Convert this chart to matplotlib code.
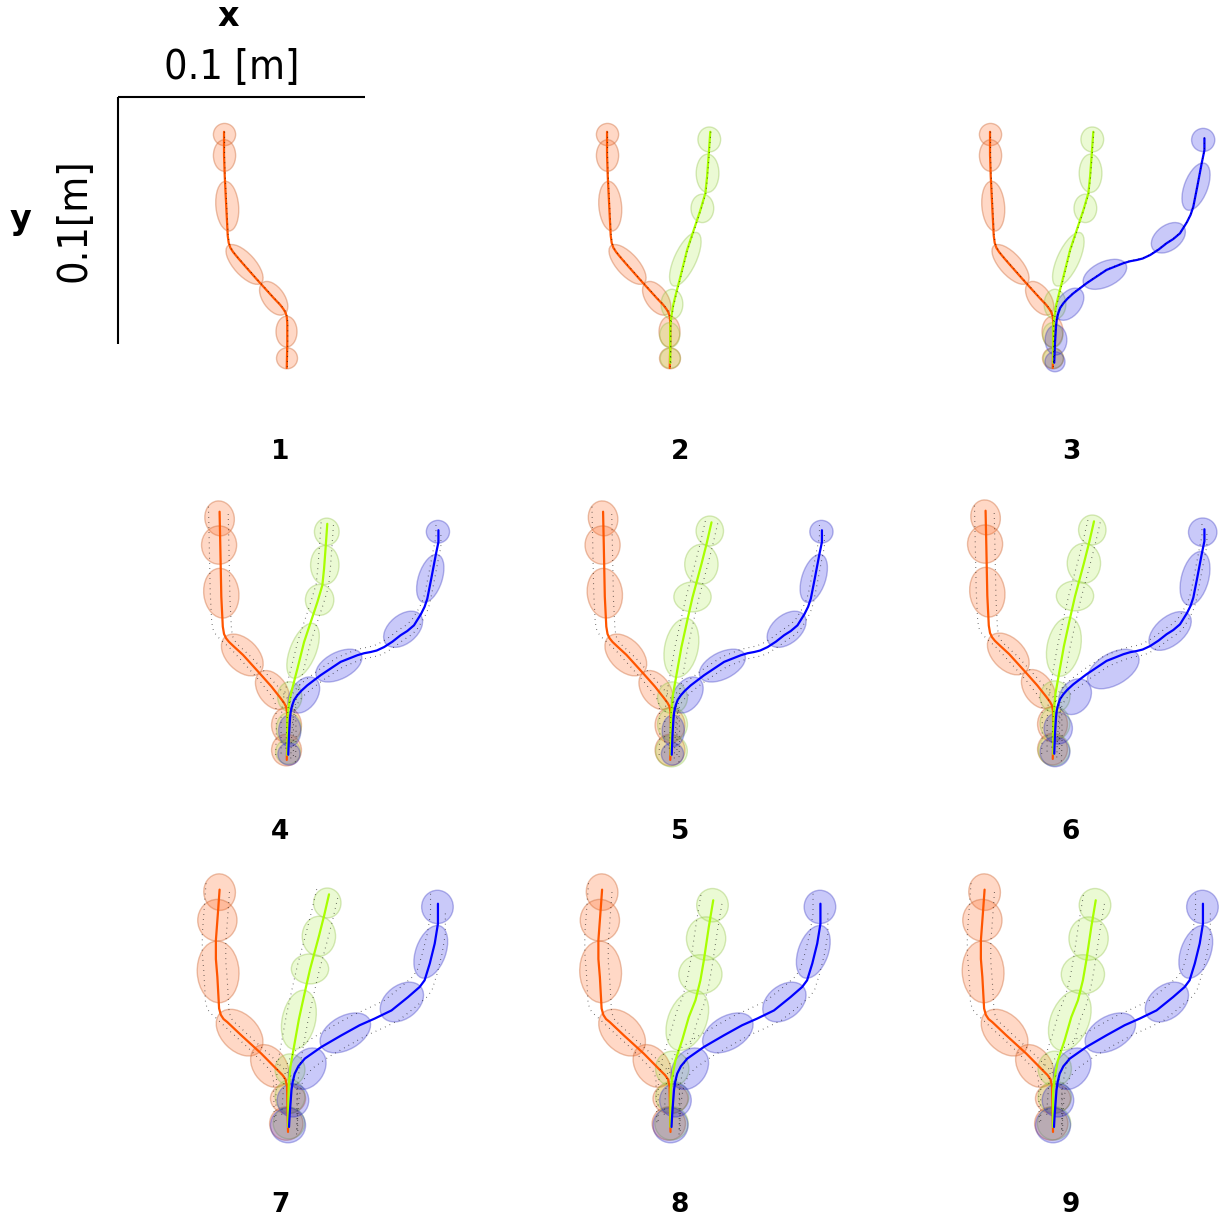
import matplotlib
matplotlib.use("Agg")
import matplotlib.pyplot as plt
from matplotlib.patches import Ellipse

# ---------------- data (millimetres, origin = common start point) ----------------
# mean trajectories
ORANGE_R1_X = [-25.9, -25.9, -25.6, -25.0, -24.4, -24.0, -23.3, -22.2, -20.4, -17.8, -12.4, -5.7,
               -3.2, -1.9, -1.0, -0.5, -0.3, -0.3, -0.5]
ORANGE_R1_Y = [93.6, 84.2, 75.4, 63.3, 51.5, 48.6, 46.6, 44.9, 42.7, 39.7, 33.6, 26.2,
               23.6, 21.9, 20.4, 18.7, 16.2, 8.0, -2.0]
ORANGE_R2_X = [-27.7, -27.4, -27.0, -26.4, -25.9, -25.1, -23.9, -22.0, -18.2, -11.5, -6.7, -3.0,
               -1.6, -0.8, -0.4, -0.2, -0.5]
ORANGE_R2_Y = [98.5, 84.3, 64.1, 52.0, 49.0, 47.3, 45.8, 44.0, 40.5, 33.1, 27.7, 23.0,
               21.1, 19.6, 17.4, 8.8, -2.0]
ORANGE_R3_X = [-28.1, -28.7, -29.6, -29.6, -29.0, -28.3, -27.6, -26.5, -25.0, -19.3, -11.2, -4.6,
               -2.6, -1.4, -0.8, -0.6, -0.4]
ORANGE_R3_Y = [96.1, 87.7, 75.6, 68.0, 60.7, 48.0, 45.4, 43.7, 42.5, 37.1, 29.7, 23.0,
               21.0, 19.3, 16.5, 6.8, -2.0]

GREEN_R1_X = [15.9, 15.3, 14.6, 13.9, 11.9, 9.2, 6.5, 3.8, 1.7, 0.8, 0.1, -0.3, -0.3]
GREEN_R1_Y = [93.6, 84.9, 75.4, 68.7, 61.9, 53.8, 45.7, 34.9, 26.8, 23.0, 18.5, 14.7, 0.0]
GREEN_S_X = [16.2, 14.2, 12.1, 10.3, 8.5, 6.5, 4.0, 2.2, 0.6, -0.1, -0.3, -0.3]
GREEN_S_Y = [94.2, 85.5, 77.2, 70.5, 63.8, 55.0, 43.6, 33.5, 24.5, 17.0, 10.0, 0.0]
GREEN_R3_X = [16.9, 15.1, 13.1, 11.7, 9.7, 7.0, 4.3, 1.6, 0.3, -0.3, -0.4, -0.4]
GREEN_R3_Y = [91.8, 81.0, 67.5, 59.4, 51.3, 44.5, 35.1, 27.0, 20.2, 15.5, 11.0, 0.0]

BLUE_R1_X = [60.9, 60.9, 59.8, 58.0, 56.4, 55.3, 53.8, 51.0, 48.3, 45.6, 42.3, 38.9, 35.9, 33.5, 30.8,
             28.1, 21.3, 13.2, 7.8, 5.4, 3.8, 2.5, 1.7, 1.1, 0.8, 0.4, 0.1]
BLUE_R1_Y = [91.0, 86.2, 80.9, 71.4, 63.3, 60.0, 57.0, 52.5, 50.2, 48.5, 45.9, 43.7, 42.3, 41.7, 41.2,
             40.4, 37.7, 32.3, 28.2, 26.0, 24.2, 22.3, 20.1, 17.5, 14.7, 8.0, 0.1]
BLUE_R3_X = [60.3, 60.3, 59.0, 57.0, 54.9, 52.9, 48.2, 41.5, 34.7, 28.6, 21.2, 13.1, 6.4, 3.8,
             2.3, 1.5, 1.0, 0.3, 0.0]
BLUE_R3_Y = [90.4, 82.3, 74.3, 66.2, 59.4, 56.7, 52.6, 47.2, 43.9, 41.2, 37.1, 32.4, 27.7, 24.6,
             21.6, 18.3, 14.9, 5.4, 0.0]

# Gaussian components: (cx, cy, major, minor, angle_deg)
ORANGE_ELL_R1 = [(-25.7, 92.5, 9.0, 9.0, 0), (-25.7, 84.0, 12.8, 9.0, 90), (-24.6, 63.5, 20.2, 9.2, 95),
                 (-17.6, 39.9, 20.2, 8.8, -48), (-5.8, 26.2, 15.5, 8.8, -55), (-0.6, 12.7, 12.5, 8.5, 90),
                 (-0.4, 1.9, 8.5, 8.5, 0)]
GREEN_ELL_R1 = [(15.5, 90.5, 10.1, 9.2, 90), (14.8, 76.8, 15.5, 9.2, 90), (12.7, 62.6, 11.5, 9.2, 90),
                (5.8, 42.0, 23.6, 8.8, 65), (0.4, 23.8, 12.1, 8.8, 90), (-0.5, 11.3, 10.1, 8.1, 90),
                (-0.3, 1.9, 8.1, 8.1, 0)]
BLUE_ELL_R1 = [(60.4, 90.3, 9.4, 9.4, 0), (57.5, 71.4, 20.2, 9.4, 69), (46.3, 50.7, 15.5, 10.1, 37),
               (20.6, 35.9, 18.9, 10.1, 25), (6.2, 23.8, 14.8, 9.4, 52), (0.8, 9.3, 12.1, 8.8, 90),
               (0.4, 0.5, 8.1, 8.1, 0)]

ORANGE_ELL_R2 = [(-27.7, 95.8, 14.2, 11.9, 100), (-27.9, 85.0, 15.5, 14.2, 90), (-27.0, 65.5, 20.2, 14.2, 97),
                 (-18.5, 40.5, 20.2, 12.8, -45), (-6.3, 26.3, 17.5, 11.5, -55), (-0.6, 12.1, 14.2, 12.1, 90),
                 (-0.6, 2.0, 12.8, 12.1, 90)]
GREEN_ELL_R2 = [(15.7, 90.4, 11.0, 10.0, 90), (14.9, 76.9, 15.8, 11.5, 90), (12.8, 62.8, 12.5, 11.5, 90),
                (6.1, 42.2, 23.6, 10.5, 68), (0.7, 23.6, 12.1, 9.8, 90), (0.3, 10.8, 12.8, 10.0, 90),
                (0.0, 1.3, 10.0, 10.0, 0)]
GREEN_ELL_S = [(15.5, 90.7, 12.1, 11.1, 90), (12.1, 77.2, 16.2, 13.5, 90), (8.5, 64.0, 15.1, 12.1, 0),
               (4.0, 43.4, 24.3, 13.5, 78), (0.4, 23.2, 12.8, 12.1, 90), (0.4, 12.4, 13.5, 12.1, 90),
               (0.0, 1.6, 12.8, 12.8, 0)]
BLUE_ELL_R2 = [(60.7, 90.4, 9.4, 9.2, 0), (57.6, 71.5, 20.2, 9.6, 72), (46.6, 50.9, 18.2, 11.5, 40),
               (20.6, 36.2, 20.2, 10.8, 27), (6.4, 24.3, 16.2, 10.8, 55), (0.7, 9.8, 12.8, 9.0, 90),
               (0.4, 0.4, 9.0, 9.0, 0)]
BLUE_ELL_P6 = [(60.2, 89.8, 11.5, 11.5, 0), (57.1, 71.1, 22.3, 11.0, 75), (47.0, 49.8, 20.2, 11.5, 40),
               (24.0, 34.4, 23.0, 12.8, 30), (8.5, 23.2, 15.5, 12.1, 55), (1.7, 10.4, 12.8, 11.5, 90),
               (0.4, 0.9, 12.1, 12.1, 0)]

ORANGE_ELL_R3 = [(-28.1, 95.1, 14.8, 12.8, 95), (-29.0, 83.7, 16.9, 15.9, 90), (-28.7, 62.8, 25.0, 16.9, 93),
                 (-20.0, 38.2, 22.3, 14.8, -45), (-7.8, 24.7, 18.9, 13.5, -55), (-0.4, 11.5, 14.2, 12.1, 0),
                 (-1.1, 1.4, 13.5, 13.5, 0)]
GREEN_ELL_R3 = [(16.6, 89.8, 13.5, 12.8, 90), (14.0, 76.3, 17.5, 15.9, 90), (11.7, 61.8, 17.5, 15.9, 0),
                (6.4, 43.2, 25.6, 15.5, 68), (0.3, 23.6, 14.2, 13.5, 90), (0.3, 12.1, 13.5, 12.8, 0),
                (0.0, 1.5, 13.5, 13.5, 0)]
BLUE_ELL_R3 = [(60.1, 89.1, 13.5, 12.8, 90), (57.4, 70.9, 22.3, 12.1, 70), (45.7, 50.6, 19.6, 13.5, 38),
               (22.8, 38.1, 22.3, 13.5, 30), (7.4, 23.6, 18.2, 13.5, 55), (1.6, 10.8, 13.5, 12.8, 90),
               (-0.4, 0.7, 14.2, 14.2, 0)]

# demonstration offsets from the mean (dx, dy) in mm
DEMO_R1 = {"orange": [(0.2, 0.0)], "green": [(0.2, 0.0)], "blue": [(0.0, 0.2)]}
DEMO_R2 = {"orange": [(-4.5, 2.0), (3.5, -1.0)], "green": [(-2.5, 0.5), (2.5, -0.5)], "blue": [(-1.0, 2.0), (1.0, -2.0)]}
DEMO_R3 = {"orange": [(-5.5, 2.5), (4.0, -1.0)], "green": [(-5.0, 2.0), (3.5, -1.5)], "blue": [(-3.0, 4.0), (3.0, -4.0)]}

PANEL_LABELS = ["1", "2", "3", "4", "5", "6", "7", "8", "9"]
SCALE_LEN_MM = 100

# which trajectory / component set each panel shows
PANELS = [
    {"orange": (ORANGE_R1_X, ORANGE_R1_Y, ORANGE_ELL_R1), "demo": DEMO_R1},
    {"orange": (ORANGE_R1_X, ORANGE_R1_Y, ORANGE_ELL_R1), "green": (GREEN_R1_X, GREEN_R1_Y, GREEN_ELL_R1),
     "demo": DEMO_R1},
    {"orange": (ORANGE_R1_X, ORANGE_R1_Y, ORANGE_ELL_R1), "green": (GREEN_R1_X, GREEN_R1_Y, GREEN_ELL_R1),
     "blue": (BLUE_R1_X, BLUE_R1_Y, BLUE_ELL_R1), "demo": DEMO_R1},
    {"orange": (ORANGE_R2_X, ORANGE_R2_Y, ORANGE_ELL_R2), "green": (GREEN_R1_X, GREEN_R1_Y, GREEN_ELL_R2),
     "blue": (BLUE_R1_X, BLUE_R1_Y, BLUE_ELL_R2), "demo": DEMO_R2},
    {"orange": (ORANGE_R2_X, ORANGE_R2_Y, ORANGE_ELL_R2), "green": (GREEN_S_X, GREEN_S_Y, GREEN_ELL_S),
     "blue": (BLUE_R1_X, BLUE_R1_Y, BLUE_ELL_R2), "demo": DEMO_R2},
    {"orange": (ORANGE_R2_X, ORANGE_R2_Y, ORANGE_ELL_R2), "green": (GREEN_S_X, GREEN_S_Y, GREEN_ELL_S),
     "blue": (BLUE_R1_X, BLUE_R1_Y, BLUE_ELL_P6), "demo": DEMO_R2},
    {"orange": (ORANGE_R3_X, ORANGE_R3_Y, ORANGE_ELL_R3), "green": (GREEN_S_X, GREEN_S_Y, GREEN_ELL_S),
     "blue": (BLUE_R3_X, BLUE_R3_Y, BLUE_ELL_R3), "demo": DEMO_R3},
    {"orange": (ORANGE_R3_X, ORANGE_R3_Y, ORANGE_ELL_R3), "green": (GREEN_R3_X, GREEN_R3_Y, GREEN_ELL_R3),
     "blue": (BLUE_R3_X, BLUE_R3_Y, BLUE_ELL_R3), "demo": DEMO_R3},
    {"orange": (ORANGE_R3_X, ORANGE_R3_Y, ORANGE_ELL_R3), "green": (GREEN_R3_X, GREEN_R3_Y, GREEN_ELL_R3),
     "blue": (BLUE_R3_X, BLUE_R3_Y, BLUE_ELL_R3), "demo": DEMO_R3},
]

# ---------------- styling / layout ----------------
W, H = 1223, 1220
PX_PER_MM = 2.47
ORIGINS = [(288, 363), (671, 363), (1054, 363),
           (288, 755), (671.5, 755), (1054, 754),
           (289, 1127), (671.5, 1127), (1054, 1127)]
LABEL_POS = [(280, 452), (680, 452), (1071, 452),
             (280, 832), (680, 832), (1071, 832),
             (280, 1205), (680, 1205), (1071, 1205)]
XL, XR, YB, YT = -45, 72, -10, 108
SKILLS = ["orange", "green", "blue"]

LINE_COL = {"orange": "#ff5500", "green": "#a8ff00", "blue": "#0000ff"}
FACE_COL = {"orange": (1.0, 0.40, 0.12, 0.25), "green": (0.62, 0.90, 0.16, 0.20), "blue": (0.0, 0.0, 0.90, 0.21)}
EDGE_COL = {"orange": (0.80, 0.40, 0.20, 0.40), "green": (0.55, 0.75, 0.25, 0.35), "blue": (0.20, 0.20, 0.75, 0.35)}

fig = plt.figure(figsize=(W / 100, H / 100), dpi=100)
axes = []
for i, (ox, oy) in enumerate(ORIGINS):
    left = (ox + XL * PX_PER_MM) / W
    bottom = (H - oy + YB * PX_PER_MM) / H
    ax = fig.add_axes([left, bottom, (XR - XL) * PX_PER_MM / W, (YT - YB) * PX_PER_MM / H])
    ax.set_xlim(XL, XR)
    ax.set_ylim(YB, YT)
    ax.axis("off")
    axes.append(ax)
    panel = PANELS[i]
    skills = [s for s in SKILLS if s in panel]
    for s in skills:
        for (cx, cy, a, b, ang) in panel[s][2]:
            ax.add_patch(Ellipse((cx, cy), a, b, angle=ang, facecolor=FACE_COL[s],
                                 edgecolor=EDGE_COL[s], linewidth=1.0, clip_on=False, zorder=1))
    for s in skills:
        xs, ys, _ = panel[s]
        for (dx, dy) in panel["demo"][s]:
            ax.plot([x + dx for x in xs], [y + dy for y in ys], color="k", lw=0.8,
                    linestyle=(0, (0.6, 4.0)), alpha=0.75, clip_on=False, zorder=3)
        ax.plot(xs, ys, color=LINE_COL[s], lw=1.6, solid_joinstyle="round",
                solid_capstyle="round", clip_on=False, zorder=2)
    lx, ly = LABEL_POS[i]
    fig.text(lx / W, 1 - ly / H, PANEL_LABELS[i], ha="center", va="center",
             fontsize=19, fontweight="bold", family="DejaVu Sans")

# scale bar in panel 1 (data units, mm)
ax0 = axes[0]
sx0 = (118 - ORIGINS[0][0]) / PX_PER_MM
sy0 = (ORIGINS[0][1] - 97) / PX_PER_MM
ax0.plot([sx0, sx0 + SCALE_LEN_MM], [sy0, sy0], color="k", lw=1.5, clip_on=False, solid_capstyle="butt")
ax0.plot([sx0, sx0], [sy0, sy0 - SCALE_LEN_MM], color="k", lw=1.5, clip_on=False, solid_capstyle="butt")

fig.text(232 / W, 1 - 68 / H, "0.1 [m]", ha="center", va="center", fontsize=29.5,
         family="DejaVu Sans", fontstretch="condensed")
fig.text(75 / W, 1 - 220 / H, "0.1[m]", ha="center", va="center", fontsize=29.5, rotation=90,
         family="DejaVu Sans", fontstretch="condensed")
fig.text(228 / W, 1 - 17 / H, "x", ha="center", va="center", fontsize=24, fontweight="bold")
fig.text(20 / W, 1 - 220 / H, "y", ha="center", va="center", fontsize=24, fontweight="bold")

fig.savefig("out.png", dpi=100)
